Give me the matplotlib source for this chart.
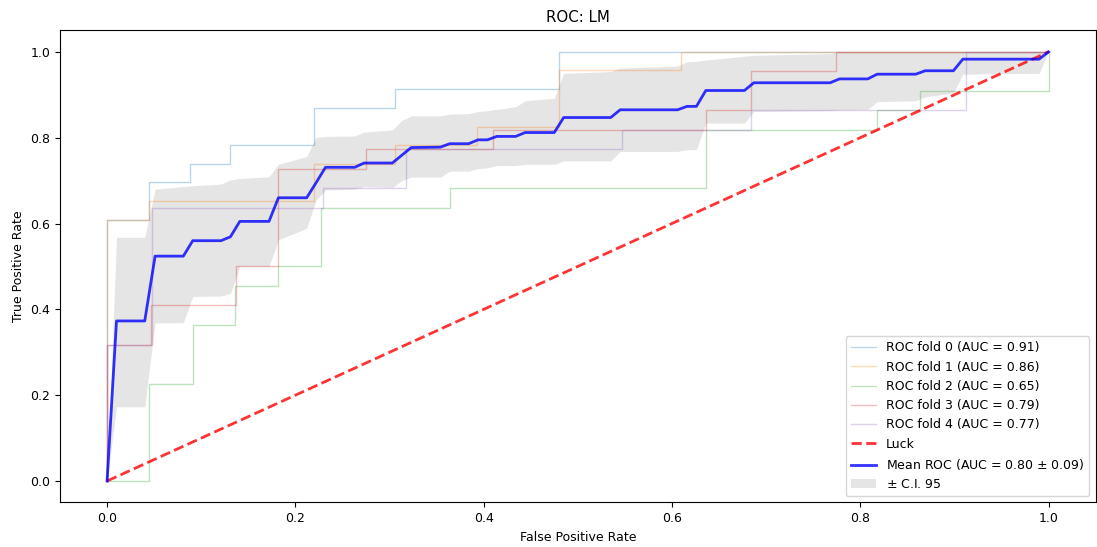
import matplotlib
matplotlib.use("Agg")
import matplotlib.pyplot as plt

# ROC des 5 folds (sommets des courbes en escalier)
fold0_fpr = [0, 0, 0.045, 0.045, 0.088, 0.088, 0.131, 0.131, 0.220, 0.220, 0.306, 0.306, 0.480, 0.480, 1.0]
fold0_tpr = [0, 0.609, 0.609, 0.696, 0.696, 0.739, 0.739, 0.783, 0.783, 0.870, 0.870, 0.913, 0.913, 1.0, 1.0]

fold1_fpr = [0, 0, 0.045, 0.045, 0.220, 0.220, 0.306, 0.306, 0.393, 0.393, 0.480, 0.480, 0.610, 0.610, 1.0]
fold1_tpr = [0, 0.609, 0.609, 0.652, 0.652, 0.739, 0.739, 0.783, 0.783, 0.826, 0.826, 0.957, 0.957, 1.0, 1.0]

fold2_fpr = [0, 0.045, 0.045, 0.091, 0.091, 0.136, 0.136, 0.182, 0.182, 0.227, 0.227, 0.364, 0.364,
             0.636, 0.636, 0.818, 0.818, 0.864, 0.864, 1.0, 1.0]
fold2_tpr = [0, 0, 0.227, 0.227, 0.364, 0.364, 0.455, 0.455, 0.5, 0.5, 0.636, 0.636, 0.682,
             0.682, 0.818, 0.818, 0.864, 0.864, 0.909, 0.909, 1.0]

fold3_fpr = [0, 0, 0.047, 0.047, 0.137, 0.137, 0.182, 0.182, 0.275, 0.275, 0.410, 0.410,
             0.636, 0.636, 0.684, 0.684, 0.774, 0.774, 1.0]
fold3_tpr = [0, 0.318, 0.318, 0.409, 0.409, 0.5, 0.5, 0.727, 0.727, 0.773, 0.773, 0.818,
             0.818, 0.864, 0.864, 0.955, 0.955, 1.0, 1.0]

fold4_fpr = [0, 0, 0.048, 0.048, 0.229, 0.229, 0.318, 0.318, 0.547, 0.547, 0.684, 0.684, 0.912, 0.912, 1.0]
fold4_tpr = [0, 0.318, 0.318, 0.636, 0.636, 0.682, 0.682, 0.773, 0.773, 0.818, 0.818, 0.864, 0.864, 1.0, 1.0]

fold_aucs = [0.91, 0.86, 0.65, 0.79, 0.77]

# courbe moyenne et bande de confiance
mean_fpr = [0, 0.010, 0.040, 0.051, 0.081, 0.091, 0.121, 0.131, 0.141, 0.172,
            0.182, 0.212, 0.222, 0.232, 0.263, 0.273, 0.303, 0.313, 0.323, 0.354,
            0.364, 0.384, 0.394, 0.404, 0.414, 0.434, 0.444, 0.475, 0.485, 0.535,
            0.545, 0.606, 0.616, 0.626, 0.636, 0.677, 0.687, 0.768, 0.778, 0.808,
            0.818, 0.859, 0.869, 0.899, 0.909, 0.990, 1.0]
mean_tpr = [0, 0.373, 0.373, 0.524, 0.524, 0.560, 0.560, 0.569, 0.605, 0.605,
            0.660, 0.660, 0.695, 0.731, 0.731, 0.741, 0.741, 0.759, 0.777, 0.778,
            0.786, 0.786, 0.795, 0.795, 0.803, 0.803, 0.812, 0.812, 0.847, 0.847,
            0.865, 0.865, 0.873, 0.873, 0.910, 0.910, 0.928, 0.928, 0.937, 0.937,
            0.948, 0.948, 0.956, 0.956, 0.983, 0.983, 1.0]
tpr_upper = [0, 0.568, 0.568, 0.680, 0.686, 0.688, 0.692, 0.702, 0.705, 0.709,
             0.738, 0.756, 0.801, 0.803, 0.804, 0.813, 0.818, 0.840, 0.851, 0.851,
             0.855, 0.856, 0.861, 0.863, 0.866, 0.872, 0.886, 0.892, 0.950, 0.954,
             0.962, 0.967, 0.977, 0.978, 0.981, 0.990, 0.992, 0.996, 1.0, 1.0,
             1.0, 1.0, 1.0, 1.0, 1.0, 1.0, 1.0]
tpr_lower = [0, 0.173, 0.173, 0.368, 0.369, 0.430, 0.431, 0.437, 0.500, 0.500,
             0.562, 0.589, 0.655, 0.678, 0.680, 0.686, 0.684, 0.700, 0.708, 0.708,
             0.722, 0.722, 0.728, 0.730, 0.735, 0.735, 0.738, 0.738, 0.746, 0.746,
             0.768, 0.768, 0.772, 0.772, 0.834, 0.834, 0.861, 0.863, 0.865, 0.866,
             0.884, 0.886, 0.895, 0.904, 0.948, 0.950, 1.0]
mean_auc = 0.80
std_auc = 0.09

folds = [(fold0_fpr, fold0_tpr), (fold1_fpr, fold1_tpr), (fold2_fpr, fold2_tpr),
         (fold3_fpr, fold3_tpr), (fold4_fpr, fold4_tpr)]

plt.rcParams['font.size'] = 9

fig = plt.figure(figsize=(10.97, 5.47), dpi=100)
ax = fig.add_axes([0.0547, 0.0814, 0.944, 0.863])

for i, (fpr, tpr) in enumerate(folds):
    ax.plot(fpr, tpr, lw=1, alpha=0.3, label='ROC fold %d (AUC = %0.2f)' % (i, fold_aucs[i]))

ax.plot([0, 1], [0, 1], linestyle='--', lw=2, color='r', label='Luck', alpha=.8)

ax.plot(mean_fpr, mean_tpr, color='b', lw=2, alpha=.8,
        label=r'Mean ROC (AUC = %0.2f $\pm$ %0.2f)' % (mean_auc, std_auc))

ax.fill_between(mean_fpr, tpr_lower, tpr_upper, color='grey', alpha=.2, lw=0,
                label=r'$\pm$ C.I. 95')

ax.set_xlim(-0.05, 1.05)
ax.set_ylim(-0.05, 1.05)
ax.set_xlabel('False Positive Rate')
ax.set_ylabel('True Positive Rate')
ax.set_title('ROC: LM')
ax.legend(loc='lower right')

fig.savefig('out.png', dpi=100)
